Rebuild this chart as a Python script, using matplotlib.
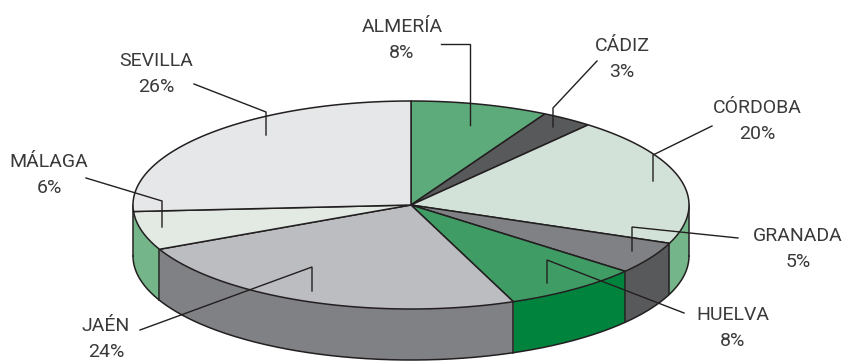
import numpy as np
import matplotlib
matplotlib.use("Agg")
import matplotlib.pyplot as plt

provincias = ["ALMERÍA", "CÁDIZ", "CÓRDOBA", "GRANADA", "HUELVA", "JAÉN", "MÁLAGA", "SEVILLA"]
porcentajes = [8, 3, 20, 5, 8, 24, 6, 26]

color_tapa = ["#5dab7b", "#58595b", "#d3e2d9", "#808184", "#3f9c64", "#bcbdc0", "#e3eae4", "#e6e7e9"]
color_lado = ["#3f9c64", "#3a3a3c", "#74b58a", "#58595b", "#00843d", "#808184", "#74b58a", "#74b58a"]

# posicion de las etiquetas y de sus lineas guia, en pixeles
pos_texto = [(402, 40), (622, 59), (757, 121), (798, 249), (733, 328), (106, 339), (49, 175), (156, 74)]
guias = [
    [(441, 44), (470, 44), (470, 125)],
    [(597, 61), (553, 108), (553, 127)],
    [(712, 126), (653, 155), (653, 181)],
    [(738, 238), (632, 227), (632, 251)],
    [(684, 313), (547, 260), (547, 283)],
    [(140, 330), (312, 267), (312, 291)],
    [(86, 178), (162, 201), (162, 227)],
    [(194, 84), (266, 112), (266, 135)],
]

cx, cy = 411, 205
rx, ry = 278, 104
alto = 51
borde = "#231f20"

plt.rcParams['font.family'] = ['Roboto', 'Liberation Sans', 'DejaVu Sans']


def borde_elipse(t0, t1):
    # t en grados, medido desde arriba en sentido horario
    t = np.radians(np.linspace(t0, t1, max(int(abs(t1 - t0) * 2), 2)))
    return cx + rx * np.sin(t), cy - ry * np.cos(t)


fig = plt.figure(figsize=(8.45, 3.62), dpi=100)
ax = fig.add_axes([0, 0, 1, 1])
ax.set_xlim(0, 845)
ax.set_ylim(362, 0)
ax.axis("off")

angulos = np.cumsum([0] + porcentajes) * 360 / sum(porcentajes)

# lados del cilindro, solo la mitad delantera
for i in range(len(porcentajes)):
    t0 = max(angulos[i], 90)
    t1 = min(angulos[i + 1], 270)
    if t1 <= t0:
        continue
    x, y = borde_elipse(t0, t1)
    xs = np.concatenate([x, x[::-1]])
    ys = np.concatenate([y, y[::-1] + alto])
    ax.fill(xs, ys, facecolor=color_lado[i], edgecolor="none", zorder=2)

# contorno de abajo y aristas verticales
x, y = borde_elipse(90, 270)
ax.plot(x, y + alto, color=borde, lw=1.1, zorder=2.5)
aristas = [90] + [a for a in angulos if 90 < a < 260] + [270]
for a in aristas:
    x, y = borde_elipse(a, a)
    ax.plot([x[0], x[0]], [y[0], y[0] + alto], color=borde, lw=1.1, zorder=2.5)

# tapa
for i in range(len(porcentajes)):
    x, y = borde_elipse(angulos[i], angulos[i + 1])
    xs = np.concatenate([[cx], x])
    ys = np.concatenate([[cy], y])
    ax.fill(xs, ys, facecolor=color_tapa[i], edgecolor=borde, lw=1.1, zorder=3, joinstyle="miter")

for g in guias:
    ax.plot([p[0] for p in g], [p[1] for p in g], color=borde, lw=1.0, zorder=4, solid_joinstyle="miter")

for nombre, pct, pos in zip(provincias, porcentajes, pos_texto):
    ax.text(pos[0], pos[1], nombre + "\n" + str(pct) + "%", ha="center", va="center",
            fontsize=14, color="#3a3a3c", linespacing=1.55, zorder=5, clip_on=False)

fig.savefig("out.png", dpi=100)
plt.close(fig)
